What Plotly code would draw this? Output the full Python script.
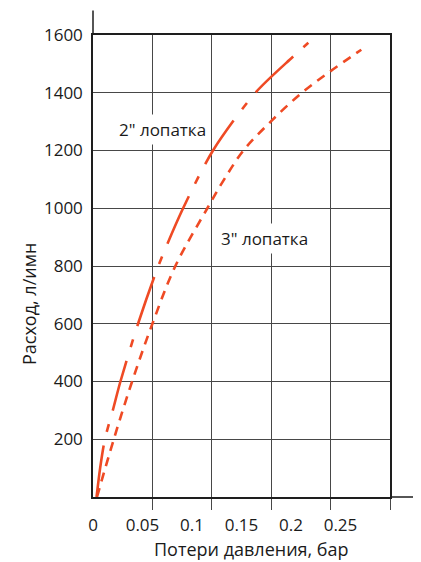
import plotly.graph_objects as go

# Data
blade2_dp = [0.0036, 0.0072, 0.012, 0.020, 0.0277, 0.0455, 0.066, 0.091, 0.1212, 0.164, 0.2014, 0.2175]
blade2_q = [0, 100, 200, 300, 400, 600, 800, 1000, 1200, 1400, 1523, 1573]

blade3_dp = [0.004, 0.021, 0.0395, 0.060, 0.0832, 0.1155, 0.1325, 0.152, 0.1795, 0.211, 0.240, 0.271]
blade3_q = [0, 200, 400, 600, 800, 1000, 1100, 1200, 1300, 1400, 1475, 1549]

x_grid = [0.06, 0.12, 0.18, 0.24, 0.30]
x_tick_vals = [0, 0.05, 0.1, 0.15, 0.2, 0.25]
x_tick_text = ["0", "0.05", "0.1", "0.15", "0.2", "0.25"]
y_tick_vals = [200, 400, 600, 800, 1000, 1200, 1400, 1600]

label2 = '2" лопатка'
label3 = '3" лопатка'
x_title = "Потери давления, бар"
y_title = "Расход, л/имн"

RED = "#ef4a24"
GRID = "#474747"
AX = "#1e1e1e"
TXT = "#1a1a1a"
FONT = "Open Sans"

fig = go.Figure()
fig.add_trace(go.Scatter(
    x=blade2_dp, y=blade2_q, mode="lines",
    line=dict(color=RED, width=2.6, dash="52px,14px,8px,14px", shape="spline", smoothing=0.8),
    showlegend=False, hoverinfo="skip"))
fig.add_trace(go.Scatter(
    x=blade3_dp, y=blade3_q, mode="lines",
    line=dict(color=RED, width=2.6, dash="9px,7px", shape="spline", smoothing=1.0),
    showlegend=False, hoverinfo="skip"))
# invisible trace to activate the label axis
fig.add_trace(go.Scatter(x=[0], y=[0], xaxis="x2", mode="markers",
                         marker=dict(opacity=0), showlegend=False, hoverinfo="skip"))

fig.update_layout(
    width=413, height=554,
    margin=dict(l=85, r=31, t=27, b=65),
    paper_bgcolor="white", plot_bgcolor="white",
    font=dict(family=FONT, size=17, color=TXT),
    xaxis=dict(range=[0, 0.3], tickmode="array", tickvals=x_grid, showticklabels=False,
               showgrid=True, gridcolor=GRID, gridwidth=1.3,
               ticks="outside", ticklen=11, tickwidth=1.3, tickcolor=GRID,
               showline=True, linecolor=AX, linewidth=1.5, mirror=True,
               zeroline=False, fixedrange=True),
    xaxis2=dict(range=[0, 0.3], overlaying="x", side="bottom", anchor="y",
                tickmode="array", tickvals=x_tick_vals, ticktext=x_tick_text,
                showgrid=False, showline=False, zeroline=False,
                ticks="outside", ticklen=13, tickcolor="rgba(0,0,0,0)",
                tickfont=dict(family=FONT, size=17, color=TXT)),
    yaxis=dict(range=[0, 1600], tickmode="array", tickvals=y_tick_vals,
               showgrid=True, gridcolor=GRID, gridwidth=1.3,
               ticks="outside", ticklen=5, tickcolor="rgba(0,0,0,0)",
               showline=True, linecolor=AX, linewidth=1.5, mirror=True,
               zeroline=False, tickfont=dict(family=FONT, size=17, color=TXT)),
    shapes=[
        dict(type="line", xref="paper", yref="paper", x0=0, x1=0, y0=1, y1=1.053,
             line=dict(color=AX, width=1.5)),
        dict(type="line", xref="paper", yref="paper", x0=1, x1=1.091, y0=0, y1=0,
             line=dict(color=AX, width=1.5)),
    ],
    annotations=[
        dict(x=0.0704, y=1273, xref="x", yref="y", text=label2, showarrow=False,
             bgcolor="white", borderpad=3, font=dict(family=FONT, size=17, color=TXT)),
        dict(x=0.1734, y=896, xref="x", yref="y", text=label3, showarrow=False,
             bgcolor="white", borderpad=3, font=dict(family=FONT, size=17, color=TXT)),
        dict(x=-0.2155, y=0.4177, xref="paper", yref="paper", text=y_title, showarrow=False,
             textangle=-90, xanchor="center", yanchor="middle",
             font=dict(family=FONT, size=18, color=TXT)),
        dict(x=0.535, y=-0.113, xref="paper", yref="paper", text=x_title, showarrow=False,
             xanchor="center", yanchor="middle",
             font=dict(family=FONT, size=18, color=TXT)),
    ],
)

fig.write_html("out.html")
